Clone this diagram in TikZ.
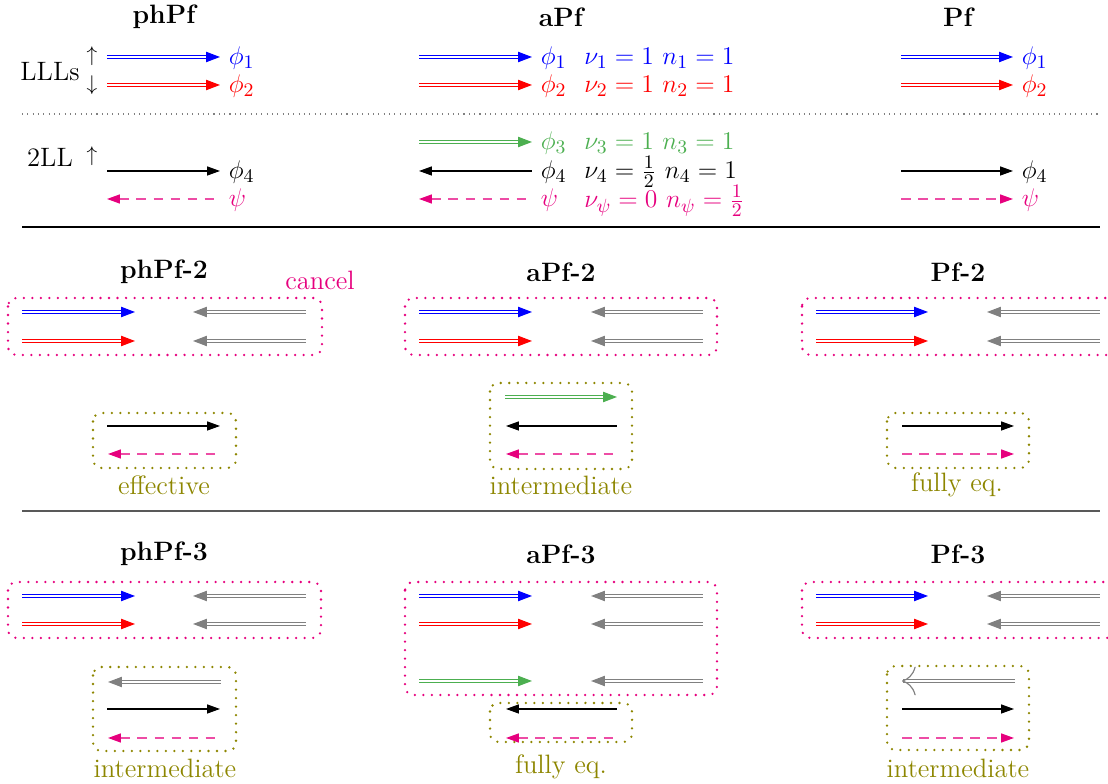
\documentclass[tikz,border=0pt]{standalone}
\usetikzlibrary{arrows.meta}
\definecolor{mypink}{RGB}{230,0,126}
\definecolor{mygreen}{RGB}{76,175,80}
\newcommand{\myfs}{\fontsize{12.5pt}{15pt}\selectfont}
\begin{document}
\begin{tikzpicture}[x=0.47pt,y=-0.47pt,
  ttl/.style={font=\myfs\bfseries, inner sep=0pt},
  txt/.style={font=\myfs, inner sep=0pt},
  lbl/.style={font=\myfs, anchor=west, inner sep=4pt},
  dblarr/.style={double, double distance=1.1pt, line width=0.55pt, -{Triangle[length=6.5pt,width=4.8pt]}},
  dblarrL/.style={double, double distance=1.1pt, line width=0.55pt, {Triangle[length=6.5pt,width=4.8pt]}-},
  sarr/.style={line width=0.5pt, -{Triangle[length=6pt,width=4.2pt]}},
  sarrL/.style={line width=0.5pt, {Triangle[length=6pt,width=4.2pt]}-},
  darr/.style={mypink!70, line width=0.55pt, dash pattern=on 4.5pt off 3.5pt, -{Triangle[length=6pt,width=4.2pt,color=mypink]}},
  darrL/.style={mypink!70, line width=0.55pt, dash pattern=on 4.5pt off 3.5pt, {Triangle[length=6pt,width=4.2pt,color=mypink]}-},
  pinkbox/.style={draw=mypink, line width=1.2pt, line cap=round, dash pattern=on 0pt off 4pt, rounded corners=4pt},
  olivebox/.style={draw=olive, line width=1.2pt, line cap=round, dash pattern=on 0pt off 4pt, rounded corners=4pt},
  olivetxt/.style={font=\myfs, text=olive, inner sep=0pt}
]
\useasboundingbox (0,0) rectangle (1108,784);

% ---------------- section 1 ----------------
\node[ttl] (t1) at (164,17) {phPf};
\node[ttl] (t2) at (561,17) {aPf};
\node[ttl] (t3) at (958,17) {Pf};

\node[txt] (lll) at (50,72) {LLLs};
\node[inner sep=0pt] (up1) at (92,56) {$\uparrow$};
\node[inner sep=0pt] (dn1) at (92,85) {$\downarrow$};
\node[txt] (twoll) at (50,157) {2LL};
\node[inner sep=0pt] (up2) at (92,156) {$\uparrow$};

\draw[gray, dotted, line width=0.5pt] (22,114) -- (1100,114);
\draw[black, line width=0.5pt] (22,227) -- (1100,227);
\draw[black!65, line width=0.8pt] (22,511) -- (1100,511);

% phPf column
\coordinate (a1) at (107,57);
\node[lbl, text=blue] (pa1) at (220,58) {$\phi_1$};
\draw[dblarr, blue] (a1) -- (a1 -| pa1.west);
\coordinate (a2) at (107,85);
\node[lbl, text=red] (pa2) at (220,86) {$\phi_2$};
\draw[dblarr, red] (a2) -- (a2 -| pa2.west);
\coordinate (a4) at (107,171);
\node[lbl, text=black] (pa4) at (220,172) {$\phi_4$};
\draw[sarr] (a4) -- (a4 -| pa4.west);
\coordinate (a5) at (107,199);
\node[lbl, text=mypink] (pa5) at (220,200) {$\psi$};
\draw[darrL] (a5) -- (a5 -| pa5.west);

% aPf column
\coordinate (b1) at (419,57);
\node[lbl, text=blue] (pb1) at (532,58) {$\phi_1$};
\draw[dblarr, blue] (b1) -- (b1 -| pb1.west);
\node[txt, anchor=west, text=blue] (nb1) at (584,58) {$\nu_1 = 1$ $n_1 = 1$};
\coordinate (b2) at (419,85);
\node[lbl, text=red] (pb2) at (532,86) {$\phi_2$};
\draw[dblarr, red] (b2) -- (b2 -| pb2.west);
\node[txt, anchor=west, text=red] (nb2) at (584,86) {$\nu_2 = 1$ $n_2 = 1$};
\coordinate (b3) at (419,142);
\node[lbl, text=mygreen] (pb3) at (532,143) {$\phi_3$};
\draw[dblarr, mygreen] (b3) -- (b3 -| pb3.west);
\node[txt, anchor=west, text=mygreen] (nb3) at (584,143) {$\nu_3 = 1$ $n_3 = 1$};
\coordinate (b4) at (419,171);
\node[lbl, text=black] (pb4) at (532,172) {$\phi_4$};
\draw[sarrL] (b4) -- (b4 -| pb4.west);
\node[txt, anchor=west, text=black] (nb4) at (584,172) {$\nu_4 = \frac{1}{2}$ $n_4 = 1$};
\coordinate (b5) at (419,199);
\node[lbl, text=mypink] (pb5) at (532,200) {$\psi$};
\draw[darrL] (b5) -- (b5 -| pb5.west);
\node[txt, anchor=west, text=mypink] (nb5) at (584,201) {$\nu_\psi = 0$ $n_\psi = \frac{1}{2}$};

% Pf column
\coordinate (c1) at (901,57);
\node[lbl, text=blue] (pc1) at (1013,58) {$\phi_1$};
\draw[dblarr, blue] (c1) -- (c1 -| pc1.west);
\coordinate (c2) at (901,85);
\node[lbl, text=red] (pc2) at (1013,86) {$\phi_2$};
\draw[dblarr, red] (c2) -- (c2 -| pc2.west);
\coordinate (c4) at (901,171);
\node[lbl, text=black] (pc4) at (1013,172) {$\phi_4$};
\draw[sarr] (c4) -- (c4 -| pc4.west);
\coordinate (c5) at (901,199);
\node[lbl, text=mypink] (pc5) at (1013,200) {$\psi$};
\draw[darr] (c5) -- (c5 -| pc5.west);

% ---------------- section 2 ----------------
\node[ttl] (t4) at (164,272) {phPf-2};
\node[ttl] (t5) at (561,272) {aPf-2};
\node[ttl] (t6) at (958,272) {Pf-2};
\node[txt, text=mypink] (cancel) at (320,280) {cancel};

% phPf-2
\draw[pinkbox] (8,298) rectangle (322,355);
\draw[dblarr, blue] (22,312) -- (135,312);
\draw[dblarr, red] (22,341) -- (135,341);
\draw[dblarrL, gray] (193,312) -- (306,312);
\draw[dblarrL, gray] (193,341) -- (306,341);
\draw[olivebox] (93,413) rectangle (236,468);
\draw[sarr] (107,426) -- (220,426);
\draw[darrL] (108,454) -- (221,454);
\node[olivetxt] (eff) at (164,485) {effective};

% aPf-2
\draw[pinkbox] (405,298) rectangle (717,355);
\draw[dblarr, blue] (419,312) -- (532,312);
\draw[dblarr, red] (419,341) -- (532,341);
\draw[dblarrL, gray] (591,312) -- (703,312);
\draw[dblarrL, gray] (591,341) -- (703,341);
\draw[olivebox] (490,383) rectangle (632,469);
\draw[dblarr, mygreen] (505,397) -- (617,397);
\draw[sarrL] (506,426) -- (617,426);
\draw[darrL] (506,454) -- (618,454);
\node[olivetxt] (int1) at (561,485) {intermediate};

% Pf-2
\draw[pinkbox] (802,298) rectangle (1115,355);
\draw[dblarr, blue] (816,312) -- (928,312);
\draw[dblarr, red] (816,341) -- (928,341);
\draw[dblarrL, gray] (987,312) -- (1100,312);
\draw[dblarrL, gray] (987,341) -- (1100,341);
\draw[olivebox] (887,413) rectangle (1029,468);
\draw[sarr] (902,426) -- (1014,426);
\draw[darr] (902,454) -- (1014,454);
\node[olivetxt] (feq1) at (957,485) {fully eq.};

% ---------------- section 3 ----------------
\node[ttl] (t7) at (164,554) {phPf-3};
\node[ttl] (t8) at (561,554) {aPf-3};
\node[ttl] (t9) at (958,554) {Pf-3};

% phPf-3
\draw[pinkbox] (8,582) rectangle (321,638);
\draw[dblarr, blue] (22,596) -- (135,596);
\draw[dblarr, red] (22,624) -- (135,624);
\draw[dblarrL, gray] (193,596) -- (306,596);
\draw[dblarrL, gray] (193,624) -- (306,624);
\draw[olivebox] (93,667) rectangle (236,751);
\draw[dblarrL, gray] (108,682) -- (221,682);
\draw[sarr] (107,709) -- (220,709);
\draw[darrL] (108,738) -- (221,738);
\node[olivetxt] (int2) at (165,768) {intermediate};

% aPf-3
\draw[pinkbox] (405,582) rectangle (717,695);
\draw[dblarr, blue] (419,596) -- (532,596);
\draw[dblarr, red] (419,624) -- (532,624);
\draw[dblarr, mygreen] (419,681) -- (532,681);
\draw[dblarrL, gray] (591,596) -- (703,596);
\draw[dblarrL, gray] (591,624) -- (703,624);
\draw[dblarrL, gray] (591,681) -- (703,681);
\draw[olivebox] (490,703) rectangle (632,742);
\draw[sarrL] (506,709) -- (617,709);
\draw[darrL] (506,738) -- (618,738);
\node[olivetxt] (feq2) at (561,767) {fully eq.};

% Pf-3
\draw[pinkbox] (802,582) rectangle (1115,638);
\draw[dblarr, blue] (816,596) -- (928,596);
\draw[dblarr, red] (816,624) -- (928,624);
\draw[dblarrL, gray] (987,596) -- (1100,596);
\draw[dblarrL, gray] (987,624) -- (1100,624);
\draw[olivebox] (887,666) rectangle (1029,750);
\draw[gray, double, double distance=1.1pt, line width=0.55pt, <-] (902,681) -- (1015,681);
\draw[sarr] (902,709) -- (1014,709);
\draw[darr] (902,738) -- (1014,738);
\node[olivetxt] (int3) at (958,768) {intermediate};
\end{tikzpicture}
\end{document}
